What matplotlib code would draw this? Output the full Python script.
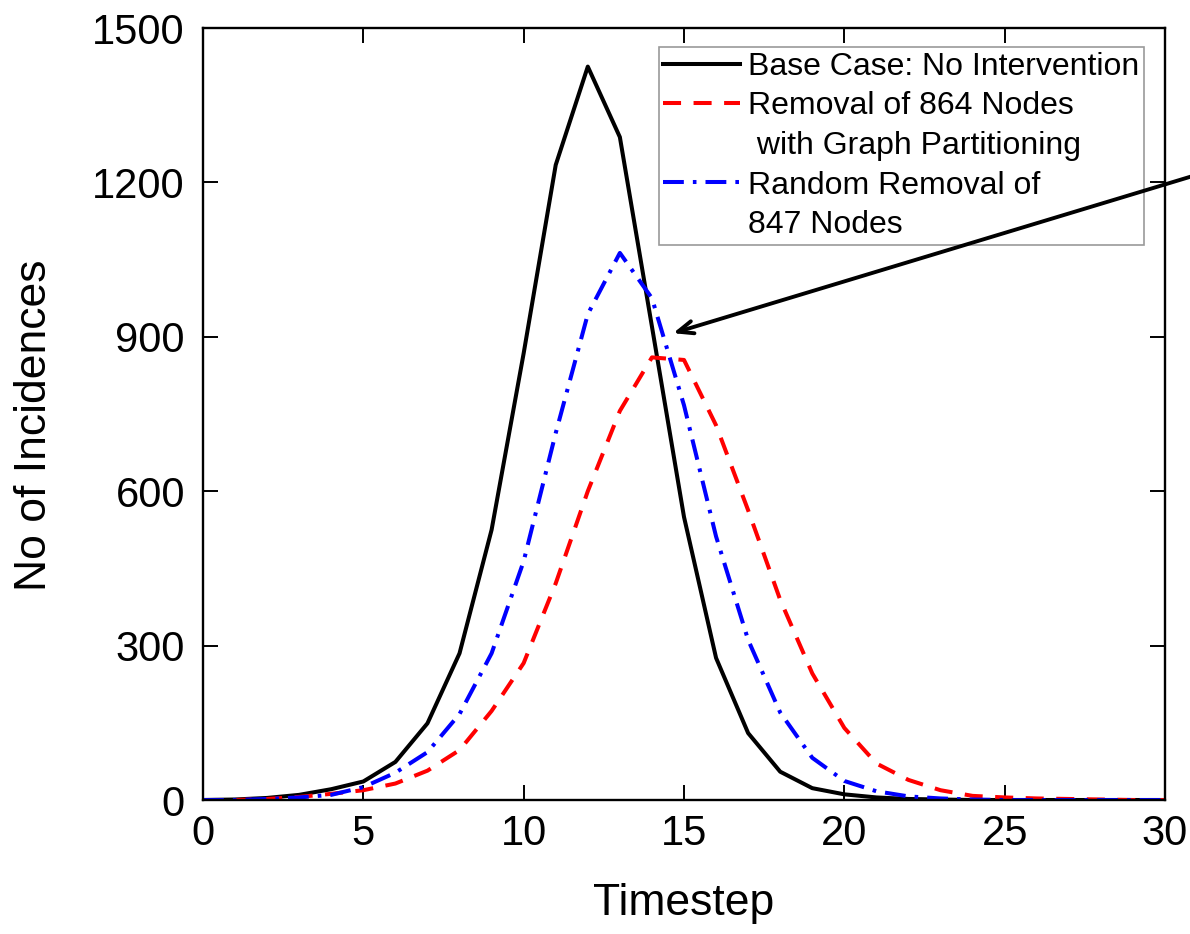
import matplotlib
matplotlib.use("Agg")
import matplotlib.pyplot as plt
from matplotlib.lines import Line2D

plt.rcParams['font.family'] = ['Liberation Sans', 'DejaVu Sans']
plt.rcParams['lines.scale_dashes'] = False

timesteps = list(range(0, 31))
base_case = [0, 1, 4, 10, 21, 36, 74, 149, 285, 525, 868, 1234, 1425, 1288, 920,
             550, 276, 130, 55, 23, 11, 5, 2, 1, 0, 0, 0, 0, 0, 0, 0]
partition_removal = [0, 0, 2, 6, 12, 19, 32, 57, 97, 173, 266, 421, 600, 756, 860,
                     855, 728, 563, 389, 246, 140, 71, 39, 19, 8, 5, 3, 2, 1, 0, 0]
random_removal = [0, 0, 2, 5, 10, 25, 53, 93, 167, 285, 464, 713, 944, 1063, 975,
                  767, 512, 311, 170, 82, 37, 17, 7, 3, 1, 0, 0, 0, 0, 0, 0]

labels = ["Base Case: No Intervention",
          "Removal of 864 Nodes",
          " with Graph Partitioning",
          "Random Removal of",
          "847 Nodes"]
x_ticks = [0, 5, 10, 15, 20, 25, 30]
y_ticks = [0, 300, 600, 900, 1200, 1500]

fig = plt.figure(figsize=(11.9, 9.34), dpi=100)
ax = fig.add_axes([203/1190, (934-800)/934, (1165-203)/1190, (800-28)/934])

LW = 2.9
red_dash = (0, (13, 9))
blue_dashdot = (0, (15, 6.5, 2.6, 6.5))

ax.plot(timesteps, base_case, color='black', lw=LW)
ax.plot(timesteps, partition_removal, color='#ff0000', lw=LW, linestyle=red_dash)
ax.plot(timesteps, random_removal, color='#0000ff', lw=LW, linestyle=blue_dashdot)

ax.set_xlim(0, 30)
ax.set_ylim(0, 1500)
ax.set_xticks(x_ticks)
ax.set_yticks(y_ticks)
ax.tick_params(direction='in', length=11, width=1.4, top=True, right=True,
               labelsize=30)
ax.tick_params(axis='x', pad=10)
ax.tick_params(axis='y', pad=13)
for s in ax.spines.values():
    s.set_linewidth(1.7)

ax.set_xlabel("Timestep", fontsize=32, labelpad=21)
ax.set_ylabel("No of Incidences", fontsize=32, labelpad=27)
ax.yaxis.label.set_y(0.485)

handles = [Line2D([], [], color='black', lw=LW),
           Line2D([], [], color='#ff0000', lw=LW, linestyle=red_dash),
           Line2D([], [], color='none', lw=0),
           Line2D([], [], color='#0000ff', lw=LW, linestyle=blue_dashdot),
           Line2D([], [], color='none', lw=0)]
leg = ax.legend(handles, labels, loc='upper right',
                bbox_to_anchor=((1144-203)/962, (800-47)/772),
                borderaxespad=0, fontsize=23, frameon=True, fancybox=False,
                handlelength=2.4, handletextpad=0.25, labelspacing=0.3,
                borderpad=0.15)
leg.get_frame().set_edgecolor('#808080')
leg.get_frame().set_linewidth(1.2)

arr = ax.annotate('', xy=(14.66, 907), xytext=(31.8, 1230),
                  xycoords='data', textcoords='data', annotation_clip=False,
                  arrowprops=dict(arrowstyle='->, head_length=1.1, head_width=0.45',
                                  color='black', lw=2.8, shrinkA=0, shrinkB=0))
arr.set_zorder(10)

fig.savefig("out.png", dpi=100)
